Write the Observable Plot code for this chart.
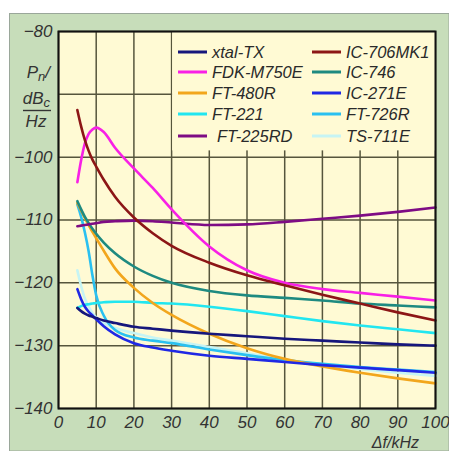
<!DOCTYPE html>
<html><head><meta charset="utf-8">
<script src="https://cdn.jsdelivr.net/npm/d3@7"></script>
<script src="https://cdn.jsdelivr.net/npm/@observablehq/plot@0.6"></script>
<style>html,body{margin:0;padding:0;background:#fff;} #chart svg{display:block;}</style>
</head><body><div id="chart"></div>
<script>
// Frequency offset grid (kHz)
const kHz = [5,6,7,8,9,10,12,15,20,25,30,40,50,60,70,80,90,100];

// Phase-noise values (dBc/Hz) per device
const xtalTX   = [-124,-124.5,-124.9,-125.2,-125.4,-125.6,-126,-126.4,-127,-127.3,-127.6,-128.1,-128.5,-128.9,-129.2,-129.5,-129.8,-130];
const fdkM750E = [-104,-100.5,-97.8,-96.3,-95.6,-95.3,-96,-98.5,-101.8,-104.9,-108.3,-114.2,-118,-120,-121,-121.6,-122.2,-122.8];
const ft480R   = [-107.3,-108.5,-109.7,-110.8,-111.9,-112.9,-114.9,-117.7,-120.8,-123.2,-125.1,-128.1,-130.4,-132.1,-133.3,-134.3,-135.2,-136];
const ft221    = [-124,-123.7,-123.5,-123.4,-123.3,-123.2,-123.1,-123,-123,-123.2,-123.3,-123.8,-124.5,-125.3,-126.1,-126.8,-127.4,-128];
const ft225RD  = [-111,-110.9,-110.8,-110.7,-110.6,-110.5,-110.3,-110.2,-110.1,-110.2,-110.4,-110.8,-110.7,-110.3,-109.8,-109.3,-108.7,-108];
const ic706MK1 = [-92.5,-95.1,-97.3,-99,-100.4,-101.5,-103.6,-106.3,-109.6,-112.1,-114.1,-116.8,-118.8,-120.4,-121.9,-123.3,-124.7,-126];
const ic746    = [-107,-108.3,-109.5,-110.5,-111.4,-112.2,-113.6,-115.3,-117.4,-118.9,-120,-121.3,-122,-122.4,-122.8,-123.3,-123.6,-123.9];
const ic271E   = [-121,-122.6,-123.8,-124.6,-125.2,-125.8,-126.9,-128.2,-129.6,-130.3,-130.8,-131.6,-132.1,-132.6,-133.1,-133.5,-133.9,-134.3];
const ft726R   = [-107.5,-109.5,-112,-115,-118.8,-122,-125.2,-127.5,-128.7,-129.2,-129.6,-130.6,-131.5,-132.3,-132.9,-133.4,-133.8,-134.2];
const ts711E   = [-118,-120.5,-122.5,-123.8,-124.8,-125.5,-126.4,-127.2,-128,-128.7,-129.2,-130.2,-131.2,-132.2,-133,-133.7,-134.3,-134.8];

const names  = ["xtal-TX","FDK-M750E","FT-480R","FT-221","FT-225RD","IC-706MK1","IC-746","IC-271E","FT-726R","TS-711E"];
const series = [xtalTX, fdkM750E, ft480R, ft221, ft225RD, ic706MK1, ic746, ic271E, ft726R, ts711E];
const colors = ["#16167c","#f820e6","#f2a61c","#22e6f0","#7e0c84","#8c1616","#1e8a80","#2028e4","#2ac0f0","#c6f4f4"];

const xTicks = [0,10,20,30,40,50,60,70,80,90,100];
const yTicks = [-80,-90,-100,-110,-120,-130,-140];
const yTickLabels = ["−80","","−100","−110","−120","−130","−140"];

// legend panel extent (data units)
const legendPanel = [{x1: 30, x2: 100, y1: -99, y2: -80}];

const data = [];
names.forEach((n, i) => kHz.forEach((k, j) => data.push({model: n, f: k, p: series[i][j]})));
// draw lighter lines first
const drawOrder = ["TS-711E","FT-726R","FT-221","FT-480R","IC-746","FT-225RD","FDK-M750E","IC-706MK1","IC-271E","xtal-TX"];
data.sort((a, b) => drawOrder.indexOf(a.model) - drawOrder.indexOf(b.model));

const yellow = "#fffad4";
const green = "#c7ddba";
const gridColor = "#56553c";
const font = "'Liberation Sans', Arial, sans-serif";

const chart = Plot.plot({
  width: 449, height: 451,
  marginLeft: 58, marginTop: 31, marginRight: 14, marginBottom: 43,
  style: {background: "transparent", fontFamily: font, fontStyle: "italic", fontSize: "17px", color: "#333"},
  x: {domain: [0, 100]},
  y: {domain: [-140, -80]},
  color: {domain: names, range: colors},
  marks: [
    Plot.frame({fill: yellow}),
    Plot.gridX(xTicks, {stroke: gridColor, strokeOpacity: 1, strokeWidth: 1.5}),
    Plot.gridY(yTicks, {stroke: gridColor, strokeOpacity: 1, strokeWidth: 1.5}),
    Plot.rect(legendPanel, {x1: "x1", x2: "x2", y1: "y1", y2: "y2", fill: yellow, insetLeft: 1}),
    Plot.axisX(xTicks, {tickSize: 0, tickPadding: 7, label: null, fontSize: 17, fill: "#333"}),
    Plot.axisY(yTicks, {tickSize: 0, tickPadding: 6, label: null, fontSize: 17, fill: "#333",
      tickFormat: d => yTickLabels[yTicks.indexOf(d)]}),
    Plot.line(data, {x: "f", y: "p", z: "model", stroke: "model", strokeWidth: 2.6, curve: "monotone-x"}),
    Plot.frame({stroke: "#111", strokeWidth: 2})
  ]
});

const svg = d3.select(chart);
// outer green panel
svg.insert("rect", ":first-child")
  .attr("x", 9.5).attr("y", 13.5).attr("width", 449 - 9.5).attr("height", 451 - 13.5)
  .attr("fill", green).attr("stroke", "#9aa79a").attr("stroke-width", 1);

// Legend
const lg = svg.append("g").attr("font-family", font).attr("font-style", "italic").attr("font-size", 16.5)
  .attr("fill", "#2a2a2a").attr("text-anchor", "start");
const rowY = [52, 72, 93, 114, 136];
names.forEach((n, i) => {
  const col = i < 5 ? 0 : 1;
  const r = i % 5;
  const lx = col === 0 ? 178 : 312;
  lg.append("line").attr("x1", lx).attr("x2", lx + 29).attr("y1", rowY[r]).attr("y2", rowY[r])
    .attr("stroke", colors[i]).attr("stroke-width", 3);
  lg.append("text").attr("text-anchor", "start").attr("x", lx + 34 + (n === "FT-225RD" ? 5 : 0))
    .attr("y", rowY[r]).attr("dy", "0.36em").text(n);
});

// Y axis title: Pn / dBc / Hz
const yt = svg.append("g").attr("font-family", font).attr("font-style", "italic").attr("font-size", 17).attr("fill", "#333");
const t1 = yt.append("text").attr("x", 50).attr("y", 78).attr("text-anchor", "end");
t1.append("tspan").text("P");
t1.append("tspan").attr("font-size", 13).attr("dy", 3).text("n");
t1.append("tspan").attr("dy", -3).text("/");
const t2 = yt.append("text").attr("x", 50).attr("y", 104).attr("text-anchor", "end");
t2.append("tspan").text("dB");
t2.append("tspan").attr("font-size", 13).attr("dy", 3).text("c");
yt.append("line").attr("x1", 23).attr("x2", 51).attr("y1", 110.5).attr("y2", 110.5).attr("stroke", "#333").attr("stroke-width", 1.4);
yt.append("text").attr("x", 36).attr("y", 127).attr("text-anchor", "middle").text("Hz");

// X axis title
svg.append("text").attr("x", 419).attr("y", 448).attr("text-anchor", "end")
  .attr("font-family", font).attr("font-style", "italic").attr("font-size", 16).attr("fill", "#333")
  .text("Δf/kHz");

document.getElementById("chart").appendChild(chart);
</script>
</body></html>
